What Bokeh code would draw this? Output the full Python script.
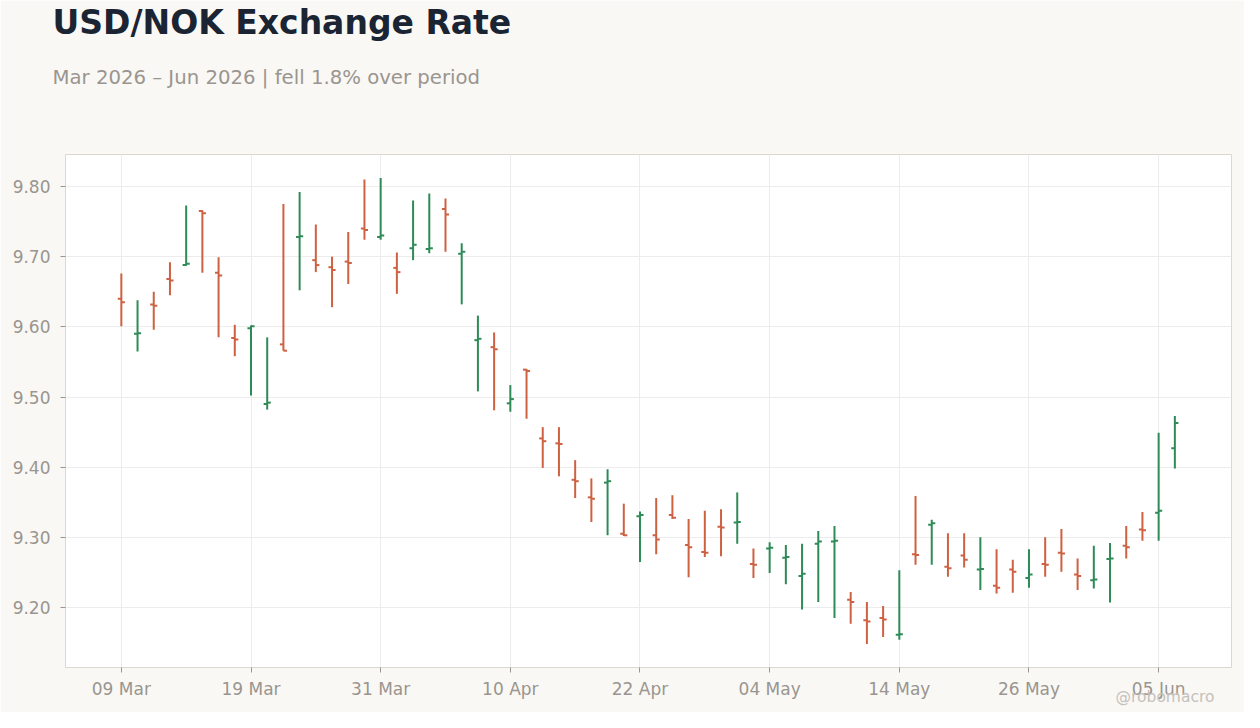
import pandas as pd
from bokeh.plotting import figure
from bokeh.models import (ColumnDataSource, FixedTicker, NumeralTickFormatter,
                          Range1d, Title)
from bokeh.embed import file_html
from bokeh.resources import INLINE

# ---- data (USD/NOK daily OHLC, business days from 09 Mar 2026) ----
start_date = "2026-03-09"
opens = [9.640, 9.590, 9.632, 9.668, 9.688, 9.765, 9.677, 9.584, 9.598, 9.490,
         9.575, 9.728, 9.695, 9.685, 9.693, 9.740, 9.728, 9.684, 9.712, 9.711,
         9.768, 9.704, 9.581, 9.571, 9.491, 9.539, 9.441, 9.434, 9.382, 9.357,
         9.378, 9.305, 9.330, 9.303, 9.332, 9.289, 9.279, 9.315, 9.321, 9.262,
         9.284, 9.271, 9.245, 9.291, 9.294, 9.211, 9.182, 9.185, 9.161, 9.276,
         9.318, 9.258, 9.274, 9.254, 9.231, 9.254, 9.242, 9.262, 9.278, 9.247,
         9.239, 9.269, 9.288, 9.311, 9.335, 9.427]
highs = [9.676, 9.638, 9.650, 9.692, 9.773, 9.766, 9.699, 9.603, 9.602, 9.585,
         9.775, 9.792, 9.746, 9.700, 9.735, 9.810, 9.812, 9.706, 9.780, 9.790,
         9.783, 9.719, 9.616, 9.592, 9.517, 9.540, 9.457, 9.457, 9.410, 9.384,
         9.397, 9.348, 9.337, 9.356, 9.360, 9.326, 9.338, 9.340, 9.364, 9.284,
         9.293, 9.289, 9.291, 9.309, 9.316, 9.222, 9.208, 9.202, 9.253, 9.359,
         9.325, 9.306, 9.306, 9.300, 9.283, 9.268, 9.283, 9.300, 9.312, 9.270,
         9.288, 9.292, 9.316, 9.336, 9.449, 9.473]
lows = [9.601, 9.565, 9.596, 9.645, 9.687, 9.677, 9.585, 9.558, 9.502, 9.482,
        9.566, 9.652, 9.678, 9.628, 9.661, 9.724, 9.724, 9.647, 9.695, 9.705,
        9.707, 9.632, 9.508, 9.481, 9.479, 9.469, 9.399, 9.387, 9.356, 9.322,
        9.303, 9.302, 9.265, 9.276, 9.326, 9.243, 9.272, 9.273, 9.291, 9.242,
        9.249, 9.233, 9.197, 9.208, 9.185, 9.177, 9.148, 9.158, 9.154, 9.261,
        9.261, 9.244, 9.257, 9.225, 9.220, 9.221, 9.228, 9.244, 9.251, 9.225,
        9.227, 9.207, 9.270, 9.295, 9.295, 9.398]
closes = [9.635, 9.591, 9.630, 9.666, 9.690, 9.762, 9.673, 9.582, 9.601, 9.492,
          9.566, 9.729, 9.688, 9.681, 9.691, 9.738, 9.730, 9.678, 9.717, 9.712,
          9.760, 9.707, 9.583, 9.568, 9.497, 9.537, 9.437, 9.433, 9.380, 9.355,
          9.380, 9.303, 9.332, 9.297, 9.328, 9.286, 9.278, 9.314, 9.322, 9.261,
          9.285, 9.272, 9.248, 9.294, 9.295, 9.208, 9.180, 9.183, 9.162, 9.275,
          9.320, 9.256, 9.268, 9.255, 9.228, 9.251, 9.247, 9.261, 9.277, 9.245,
          9.240, 9.270, 9.286, 9.310, 9.338, 9.463]
x_tick_step = 8
y_ticks = [9.20, 9.30, 9.40, 9.50, 9.60, 9.70, 9.80]
title_text = "USD/NOK Exchange Rate"
subtitle_text = "Mar 2026 \u2013 Jun 2026 | fell 1.8% over period"
watermark_text = "@robomacro"

UP = "#2e8b57"
DOWN = "#cd6142"
BG = "#f9f8f5"
GREY = "#9a958f"

dates = pd.bdate_range(start_date, periods=len(opens))
idx = list(range(len(opens)))
colors = [UP if c >= o else DOWN for o, c in zip(opens, closes)]
tw = 0.22
src = ColumnDataSource(dict(
    x=idx, o=opens, h=highs, l=lows, c=closes, color=colors,
    xl=[i - tw for i in idx], xr=[i + tw for i in idx],
))

n = len(opens)
pad_x = (n - 1) * 0.053
p = figure(width=1244, height=712, output_backend="svg", toolbar_location=None,
           x_range=Range1d(-pad_x, n - 1 + pad_x + 0.05),
           y_range=Range1d(9.1145, 9.8456),
           background_fill_color="white", border_fill_color=BG,
           min_border_left=65, min_border_right=13, min_border_bottom=45,
           min_border_top=0)
p.title = None

p.segment(x0="x", y0="l", x1="x", y1="h", color="color", line_width=2, source=src)
p.segment(x0="xl", y0="o", x1="x", y1="o", color="color", line_width=2, source=src)
p.segment(x0="x", y0="c", x1="xr", y1="c", color="color", line_width=2, source=src)

p.outline_line_color = "#dcd7cf"
p.outline_line_width = 1
p.grid.grid_line_color = "#ececec"
p.grid.grid_line_width = 1

xt = list(range(0, n, x_tick_step))
p.xaxis.ticker = FixedTicker(ticks=xt)
p.xaxis.major_label_overrides = {i: dates[i].strftime("%d %b") for i in xt}
p.yaxis.ticker = FixedTicker(ticks=y_ticks)
p.yaxis.formatter = NumeralTickFormatter(format="0.00")

for ax in (p.xaxis, p.yaxis):
    ax.axis_line_color = None
    ax.major_tick_line_color = GREY
    ax.major_tick_out = 5
    ax.major_tick_in = 0
    ax.minor_tick_line_color = None
    ax.major_label_text_color = GREY
    ax.major_label_text_font = "DejaVu Sans"
    ax.major_label_text_font_size = "17px"
p.yaxis.major_label_standoff = 10
p.xaxis.major_label_standoff = 6

# titles stacked above the frame (first added = closest to the frame)
p.add_layout(Title(text=" ", text_font="DejaVu Sans", text_font_size="2px",
                   text_color=BG, standoff=39), "above")
p.add_layout(Title(text=subtitle_text, text_font="DejaVu Sans",
                   text_font_size="19.7px", text_font_style="normal",
                   text_color=GREY, align="left", offset=-13, standoff=45), "above")
p.add_layout(Title(text=title_text, text_font="DejaVu Sans",
                   text_font_size="33px", text_font_style="bold",
                   text_color="#1b2433", align="left", offset=-13, standoff=0), "above")
# watermark below the x-axis labels
p.add_layout(Title(text=watermark_text, text_font="DejaVu Sans",
                   text_font_size="15.5px", text_font_style="normal",
                   text_color="#c5c1bb", align="right", offset=17,
                   vertical_align="top", standoff=-27), "below")

open("out.html", "w").write(file_html(p, INLINE))
